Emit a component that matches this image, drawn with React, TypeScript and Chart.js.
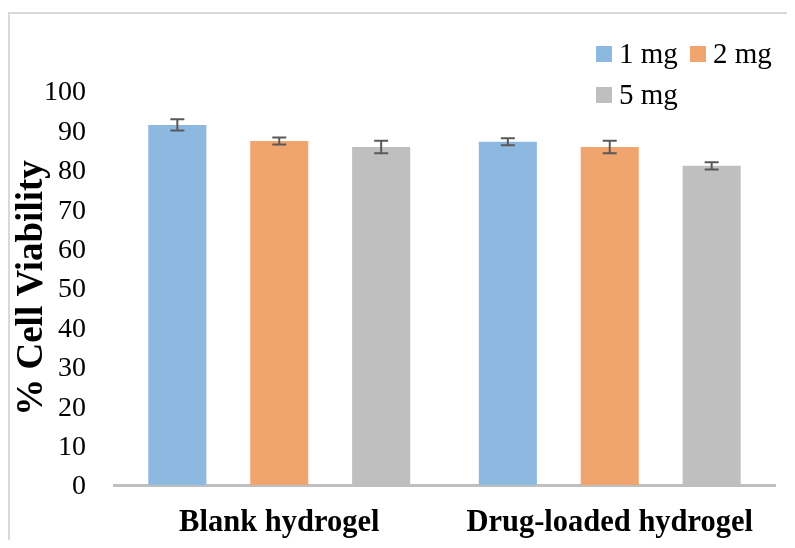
import React, { useEffect, useRef } from "react";
import { Chart, registerables } from "chart.js";

Chart.register(...registerables);

const categories = ["Blank hydrogel", "Drug-loaded hydrogel"];
const seriesLabels = ["1 mg", "2 mg", "5 mg"];
const values1mg = [91.4, 87.1];
const values2mg = [87.3, 85.8];
const values5mg = [85.8, 81.0];
const errors1mg = [1.4, 0.9];
const errors2mg = [0.9, 1.6];
const errors5mg = [1.6, 0.9];
const yTicks = [0, 10, 20, 30, 40, 50, 60, 70, 80, 90, 100];

const colors = ["#8DB8E0", "#F0A56E", "#BFBFBF"];
const SERIF = "'Liberation Serif', 'Times New Roman', serif";

const errorBarPlugin = {
  id: "errorBars",
  afterDatasetsDraw(chart: any) {
    const ctx = chart.ctx;
    const yScale = chart.scales.y;
    chart.data.datasets.forEach((ds: any, di: number) => {
      const meta = chart.getDatasetMeta(di);
      meta.data.forEach((bar: any, i: number) => {
        const v = ds.data[i];
        const e = ds.errors[i];
        const x = bar.x;
        const yTop = yScale.getPixelForValue(v + e);
        const yBot = yScale.getPixelForValue(v - e);
        ctx.save();
        ctx.strokeStyle = "#595959";
        ctx.lineWidth = 2;
        ctx.beginPath();
        ctx.moveTo(x, yTop);
        ctx.lineTo(x, yBot);
        ctx.moveTo(x - 7, yTop);
        ctx.lineTo(x + 7, yTop);
        ctx.moveTo(x - 7, yBot);
        ctx.lineTo(x + 7, yBot);
        ctx.stroke();
        ctx.restore();
      });
    });
  },
};

const framePlugin = {
  id: "frame",
  beforeDraw(chart: any) {
    const ctx = chart.ctx;
    ctx.save();
    ctx.fillStyle = "#ffffff";
    ctx.fillRect(0, 0, chart.width, chart.height);
    ctx.strokeStyle = "#D9D9D9";
    ctx.lineWidth = 2;
    ctx.beginPath();
    ctx.moveTo(1, chart.height + 5);
    ctx.lineTo(1, 5);
    ctx.lineTo(chart.width + 5, 5);
    ctx.stroke();
    ctx.restore();
  },
};

const legendPlugin = {
  id: "customLegend",
  afterDraw(chart: any) {
    const ctx = chart.ctx;
    const items = [
      { x: 588, y: 46 },
      { x: 682, y: 46 },
      { x: 588, y: 87 },
    ];
    ctx.save();
    ctx.font = `29px ${SERIF}`;
    ctx.textBaseline = "middle";
    chart.data.datasets.forEach((ds: any, i: number) => {
      const p = items[i];
      ctx.fillStyle = ds.backgroundColor;
      ctx.fillRect(p.x, p.y - 8, 16, 16);
      ctx.fillStyle = "#000";
      ctx.fillText(ds.label, p.x + 23, p.y + 1);
    });
    ctx.restore();
  },
};

export default function App() {
  const ref = useRef<HTMLCanvasElement>(null);
  useEffect(() => {
    if (!ref.current) return;
    const seriesValues = [values1mg, values2mg, values5mg];
    const seriesErrors = [errors1mg, errors2mg, errors5mg];
    const chart = new Chart(ref.current, {
      type: "bar",
      data: {
        labels: categories,
        datasets: seriesLabels.map((label, i) => ({
          label,
          data: seriesValues[i],
          errors: seriesErrors[i],
          backgroundColor: colors[i],
          categoryPercentage: 0.925,
          barPercentage: 0.57,
        })) as any,
      },
      options: {
        animation: false,
        responsive: false,
        devicePixelRatio: 1,
        layout: { padding: { top: 83, left: 2, right: 20, bottom: 2 } },
        plugins: {
          legend: { display: false },
          tooltip: { enabled: false },
        },
        scales: {
          x: {
            afterFit: (scale: any) => {
              scale.height = 53;
            },
            grid: { display: false, drawTicks: false },
            border: { display: true, color: "#BFBFBF", width: 3 },
            ticks: {
              color: "#000",
              padding: 20,
              font: { family: SERIF, size: 30.5, weight: "bold" },
            },
          },
          y: {
            min: 0,
            max: 100,
            afterFit: (scale: any) => {
              scale.width = 104;
            },
            afterBuildTicks: (scale: any) => {
              scale.ticks = yTicks.map((v) => ({ value: v }));
            },
            grid: { display: false, drawTicks: false },
            border: { display: false },
            ticks: {
              color: "#000",
              padding: 28,
              labelOffset: 2,
              font: { family: SERIF, size: 28 },
            },
            title: {
              display: true,
              text: "% Cell Viability",
              color: "#000",
              padding: { top: 0, bottom: 0 },
              font: { family: SERIF, size: 37, weight: "bold" },
            },
          },
        },
      } as any,
      plugins: [framePlugin, errorBarPlugin, legendPlugin],
    });
    return () => chart.destroy();
  }, []);
  return (
    <canvas ref={ref} width={787} height={532} style={{ display: "block" }} />
  );
}
